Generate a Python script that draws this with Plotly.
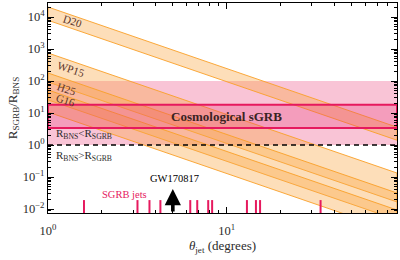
import numpy as np
import plotly.graph_objects as go

# ---------------- data ----------------
THETA_ENDS = [1.0, 90.0]            # jet opening angle (deg) at band ends

D20_LO = [7.9e3, 1.41]
D20_HI = [2.05e4, 3.6]
WP15_LO = [93.0, 0.0166]
WP15_HI = [750.0, 0.133]
H25_LO = [25.7, 0.0046]
H25_HI = [178.0, 0.0316]
G16_LO = [10.7, 0.0019]
G16_HI = [52.5, 0.0093]

BAND_NAMES = ["D20", "WP15", "H25", "G16"]

PINK_RANGE = [1.0, 100.0]           # R_BNS < R_SGRB region
COSMO_RANGE = [3.4, 18.0]           # cosmological sGRB band
EQUAL_LINE = 1.0

SGRB_JETS = [1.59, 3.17, 3.70, 4.26, 6.26, 6.85, 7.89, 8.30, 13.0, 14.6, 15.4, 33.6]
JET_TICK_TOP = 0.019

GW_THETA = 5.0
GW_TIP = 0.042

Y_MIN, Y_MAX = 0.0075, 2.74e4

# ---------------- styles ----------------
ORANGE_FILL = "rgba(250,168,70,0.38)"
ORANGE_EDGE = "rgba(250,160,40,0.9)"
PINK_FILL = "rgba(235,60,120,0.30)"
COSMO_FILL = "rgba(230,40,110,0.25)"
MAGENTA = "#E6195E"
FONT = "Liberation Serif"
TXT = "#2b2b2b"

fig = go.Figure()

# pink region R_BNS < R_SGRB
fig.add_trace(go.Scatter(
    x=[THETA_ENDS[0], THETA_ENDS[1], THETA_ENDS[1], THETA_ENDS[0], THETA_ENDS[0]],
    y=[PINK_RANGE[0], PINK_RANGE[0], PINK_RANGE[1], PINK_RANGE[1], PINK_RANGE[0]],
    fill="toself", fillcolor=PINK_FILL, mode="none", hoverinfo="skip", showlegend=False))

# orange bands
bands = [(D20_LO, D20_HI), (WP15_LO, WP15_HI), (H25_LO, H25_HI), (G16_LO, G16_HI)]
for lo, hi in bands:
    fig.add_trace(go.Scatter(
        x=THETA_ENDS + THETA_ENDS[::-1] + [THETA_ENDS[0]],
        y=lo + hi[::-1] + [lo[0]],
        fill="toself", fillcolor=ORANGE_FILL, mode="lines",
        line=dict(color=ORANGE_EDGE, width=1), hoverinfo="skip", showlegend=False))

# cosmological band
fig.add_trace(go.Scatter(
    x=[THETA_ENDS[0], THETA_ENDS[1], THETA_ENDS[1], THETA_ENDS[0], THETA_ENDS[0]],
    y=[COSMO_RANGE[0], COSMO_RANGE[0], COSMO_RANGE[1], COSMO_RANGE[1], COSMO_RANGE[0]],
    fill="toself", fillcolor=COSMO_FILL, mode="lines",
    line=dict(color=MAGENTA, width=2), hoverinfo="skip", showlegend=False))

# equality line
fig.add_trace(go.Scatter(x=THETA_ENDS, y=[EQUAL_LINE, EQUAL_LINE], mode="lines",
                         line=dict(color="black", width=1.6, dash="5px,4px"),
                         hoverinfo="skip", showlegend=False))

# SGRB jet ticks
jx, jy = [], []
for t in SGRB_JETS:
    jx += [t, t, None]
    jy += [Y_MIN, JET_TICK_TOP, None]
fig.add_trace(go.Scatter(x=jx, y=jy, mode="lines", line=dict(color=MAGENTA, width=2),
                         hoverinfo="skip", showlegend=False))

ann = []
# GW170817 arrow
ann.append(dict(x=np.log10(GW_THETA), y=np.log10(GW_TIP), ax=np.log10(GW_THETA), ay=np.log10(Y_MIN),
                xref="x", yref="y", axref="x", ayref="y", showarrow=True,
                arrowhead=2, arrowsize=0.9, arrowwidth=3.6, arrowcolor="black", text=""))
ann.append(dict(x=np.log10(GW_THETA) + 0.01, y=np.log10(GW_TIP), xref="x", yref="y", showarrow=False,
                text="GW170817", yanchor="bottom", yshift=3,
                font=dict(family=FONT, size=10.5, color="black")))
ann.append(dict(x=np.log10(2.69), y=-1.56, xref="x", yref="y", showarrow=False,
                text="SGRB jets", font=dict(family=FONT, size=10.5, color=MAGENTA)))

# band labels
label_pos = {"D20": (1.37, 3.87), "WP15": (1.34, 2.37), "H25": (1.27, 1.75), "G16": (1.25, 1.41)}
for name in BAND_NAMES:
    lx, ly = label_pos[name]
    ann.append(dict(x=np.log10(lx), y=ly, xref="x", yref="y", showarrow=False, text=name,
                    textangle=18, font=dict(family=FONT, size=11, color="#5a3328")))

ann.append(dict(x=1.0, y=0.885, xref="x", yref="y", showarrow=False,
                text="<b>Cosmological sGRB</b>", font=dict(family=FONT, size=13, color="#3a2323")))
ann.append(dict(x=np.log10(1.08), y=0.344, xref="x", yref="y", showarrow=False, xanchor="left",
                text="R<sub>BNS</sub><R<sub>SGRB</sub>", font=dict(family=FONT, size=11, color=TXT)))
ann.append(dict(x=np.log10(1.08), y=-0.344, xref="x", yref="y", showarrow=False, xanchor="left",
                text="R<sub>BNS</sub>>R<sub>SGRB</sub>", font=dict(family=FONT, size=11, color=TXT)))

ymajor = [10.0 ** p for p in range(-2, 5)]
ytext = ["10<sup>%s</sup>" % (("−" + str(-p)) if p < 0 else str(p)) for p in range(-2, 5)]
yminor = [m * 10.0 ** p for p in range(-3, 5) for m in range(2, 10)]
xminor = [m * 10.0 ** p for p in range(0, 2) for m in range(2, 10)]

axis_common = dict(type="log", showgrid=False, zeroline=False, showline=True, linecolor="black",
                   linewidth=1, mirror="allticks", ticks="inside", ticklen=6, tickcolor="black",
                   tickfont=dict(family=FONT, size=12.5, color=TXT))

fig.update_layout(
    width=400, height=260, margin=dict(l=48, r=3, t=3, b=47),
    paper_bgcolor="white", plot_bgcolor="white",
    annotations=ann,
    xaxis=dict(range=[np.log10(THETA_ENDS[0]), np.log10(THETA_ENDS[1])],
               tickmode="array", tickvals=[1, 10], ticktext=["10<sup>0</sup>", "10<sup>1</sup>"],
               ticklabelstandoff=6,
               minor=dict(tickmode="array", tickvals=xminor, ticks="inside", ticklen=3, tickcolor="black"),
               title=dict(text="<i>θ</i><sub>jet</sub> (degrees)", font=dict(family=FONT, size=13, color=TXT),
                          standoff=1),
               **axis_common),
    yaxis=dict(range=[np.log10(Y_MIN), np.log10(Y_MAX)],
               tickmode="array", tickvals=ymajor, ticktext=ytext,
               minor=dict(tickmode="array", tickvals=yminor, ticks="inside", ticklen=3, tickcolor="black"),
               title=dict(text="R<sub>SGRB</sub>/R<sub>BNS</sub>", font=dict(family=FONT, size=13, color=TXT),
                          standoff=2),
               **axis_common),
)

fig.write_html("out.html")
